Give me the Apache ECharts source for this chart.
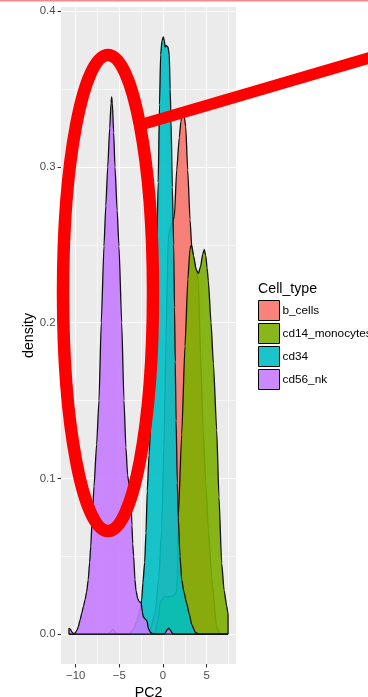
<!DOCTYPE html>
<html>
<head>
<meta charset="utf-8">
<script src="https://cdn.jsdelivr.net/npm/echarts@6.0.0/dist/echarts.min.js"></script>
<style>
  html, body { margin: 0; padding: 0; background: #ffffff; }
  #chart { width: 368px; height: 697px; }
</style>
</head>
<body>
<div id="chart"></div>
<script>
// Kernel density of PC2 per cell type: [PC2, density] pairs.
const cellTypes = ['b_cells', 'cd14_monocytes', 'cd34', 'cd56_nk'];
const fillColors = ['#F8766D', '#7CAE00', '#00BFC4', '#C77CFF'];

const bCells = [
  [-10.77, 0], [-6.4, 0], [-6.05, 0.0012], [-5.75, 0.003], [-5.45, 0.0012], [-5.1, 0],
  [-2.2, 0], [-1.5, 0.002], [-0.92, 0.013], [-0.5, 0.035], [-0.15, 0.067], [0.1, 0.12],
  [0.35, 0.19], [0.61, 0.255], [0.9, 0.262], [1.3, 0.268], [1.57, 0.298], [1.87, 0.319],
  [2.05, 0.329], [2.2, 0.333], [2.32, 0.334], [2.45, 0.332], [2.6, 0.326], [2.83, 0.298],
  [3.1, 0.266], [3.3, 0.248], [3.6, 0.238], [4.05, 0.227], [4.3, 0.18], [4.6, 0.131],
  [4.9, 0.097], [5.2, 0.067], [5.6, 0.035], [6.15, 0.004], [6.6, 0], [7.45, 0]
];

const cd14Monocytes = [
  [-10.77, 0], [-1.2, 0], [-0.9, 0.001], [-0.6, 0.008], [-0.3, 0.021], [0.2, 0.024],
  [0.8, 0.024], [1.3, 0.025], [1.55, 0.027], [1.66, 0.038], [1.75, 0.075], [2.14, 0.128],
  [2.52, 0.185], [2.85, 0.228], [3.09, 0.247], [3.2, 0.2495], [3.28, 0.2497], [3.5, 0.243],
  [3.8, 0.234], [4.05, 0.2316], [4.3, 0.236], [4.55, 0.244], [4.73, 0.247], [4.9, 0.243],
  [5.05, 0.235], [5.19, 0.227], [5.5, 0.2], [5.77, 0.174], [6.15, 0.131], [6.41, 0.088],
  [6.72, 0.0455], [7.0, 0.028], [7.3, 0.018], [7.45, 0.013], [7.45, 0]
];

const cd34 = [
  [-10.77, 0], [-4.2, 0], [-3.8, 0.0005], [-3.4, 0.003], [-3.0, 0.008], [-2.7, 0.014],
  [-2.44, 0.022], [-2.3, 0.033], [-2.1, 0.046], [-1.95, 0.065], [-1.8, 0.092], [-1.6, 0.115],
  [-1.4, 0.135], [-1.2, 0.163], [-1.0, 0.195], [-0.75, 0.24], [-0.55, 0.29], [-0.4, 0.34],
  [-0.27, 0.372], [-0.12, 0.381], [0.04, 0.3835], [0.15, 0.381], [0.25, 0.377], [0.35, 0.378],
  [0.57, 0.377], [0.72, 0.372], [0.82, 0.35], [0.92, 0.33], [1.07, 0.287], [1.22, 0.25],
  [1.32, 0.21], [1.4, 0.175], [1.5, 0.137], [1.64, 0.097], [1.75, 0.075], [1.95, 0.05],
  [2.14, 0.035], [2.4, 0.027], [2.7, 0.02], [3.0, 0.013], [3.3, 0.006], [3.7, 0.0012],
  [4.1, 0], [7.45, 0]
];

const cd56Nk = [
  [-10.77, 0], [-10.77, 0.0037], [-10.6, 0.0032], [-10.45, 0.0015], [-10.25, 0.0003],
  [-10.05, 0.0008], [-9.85, 0.0026], [-9.7, 0.0047], [-9.5, 0.009], [-9.3, 0.0135],
  [-9.1, 0.018], [-8.93, 0.022], [-8.75, 0.027], [-8.56, 0.035], [-8.4, 0.046],
  [-8.28, 0.056], [-8.1, 0.075], [-7.9, 0.095], [-7.6, 0.122], [-7.33, 0.15], [-7.07, 0.2],
  [-6.76, 0.249], [-6.55, 0.275], [-6.33, 0.3], [-6.1, 0.325], [-5.95, 0.341], [-5.88, 0.345],
  [-5.8, 0.341], [-5.65, 0.322], [-5.5, 0.3], [-5.25, 0.272], [-5.04, 0.249], [-4.73, 0.2],
  [-4.47, 0.15], [-4.25, 0.12], [-4.05, 0.102], [-3.85, 0.095], [-3.7, 0.088], [-3.55, 0.07],
  [-3.47, 0.058], [-3.36, 0.05], [-3.21, 0.035], [-3.09, 0.028], [-2.9, 0.023], [-2.71, 0.0207],
  [-2.5, 0.0202], [-2.44, 0.0199], [-2.35, 0.014], [-2.26, 0.011], [-2.0, 0.0095],
  [-1.83, 0.0085], [-1.68, 0.0037], [-1.45, 0.0012], [-1.2, 0.0002], [-0.5, 0],
  [0.2, 0.0003], [0.45, 0.0025], [0.65, 0.0038], [0.85, 0.0025], [1.1, 0.0003], [1.5, 0],
  [7.45, 0]
];

const xTicks = [-10, -5, 0, 5];
const xMinorTicks = [-7.5, -2.5, 2.5, 7.5];
const yTicks = [0, 0.1, 0.2, 0.3, 0.4];
const yMinorTicks = [0.05, 0.15, 0.25, 0.35];

const densities = [bCells, cd14Monocytes, cd34, cd56Nk];

// Axis limits: data range widened by 5% on each side.
const allX = densities.flat().map(p => p[0]);
const allY = densities.flat().map(p => p[1]);
const xLo = Math.min(...allX), xHi = Math.max(...allX);
const yLo = Math.min(0, ...allY), yHi = Math.max(...allY);
const xPad = 0.05 * (xHi - xLo), yPad = 0.05 * (yHi - yLo);

const FONT = '"Liberation Sans", Arial, Helvetica, sans-serif';
const minusFmt = v => (v < 0 ? '\u2212' + Math.abs(v) : String(v));

function rgba(hex, a) {
  const n = parseInt(hex.slice(1), 16);
  return 'rgba(' + (n >> 16 & 255) + ',' + (n >> 8 & 255) + ',' + (n & 255) + ',' + a + ')';
}

const chart = echarts.init(document.getElementById('chart'), null, { renderer: 'canvas' });

const gridLines = [
  ...xTicks.map(v => ({ xAxis: v, lineStyle: { width: 1.1 } })),
  ...xMinorTicks.map(v => ({ xAxis: v, lineStyle: { width: 0.55 } })),
  ...yTicks.map(v => ({ yAxis: v, lineStyle: { width: 1.1 } })),
  ...yMinorTicks.map(v => ({ yAxis: v, lineStyle: { width: 0.55 } }))
];

const densitySeries = cellTypes.map((name, i) => ({
  type: 'line',
  name: name,
  data: densities[i],
  z: 10 + i,
  symbol: 'none',
  showSymbol: false,
  smooth: 0.2,
  smoothMonotone: 'x',
  silent: true,
  animation: false,
  color: fillColors[i],
  lineStyle: { color: '#111', width: 1.3 },
  areaStyle: { color: fillColors[i], opacity: 0.9 },
  emphasis: { disabled: true }
}));

// Axes sit on the panel edges (not on zero); only the outward ticks are drawn.
const edgeAxisLine = { show: false, onZero: false };

chart.setOption({
  animation: false,
  backgroundColor: '#ffffff',
  textStyle: { fontFamily: FONT },
  title: {
    text: 'Cell_type',
    left: 258,
    top: 282,
    padding: 0,
    textStyle: { fontFamily: FONT, fontSize: 14.2, fontWeight: 'normal', color: '#000' }
  },
  legend: {
    orient: 'vertical',
    left: 258,
    top: 300,
    padding: 0,
    itemWidth: 21,
    itemHeight: 20,
    itemGap: 2,
    selectedMode: false,
    icon: 'rect',
    textStyle: { fontFamily: FONT, fontSize: 11.8, color: '#000', padding: [0, 0, 0, -2] },
    data: cellTypes.map((n, i) => ({
      name: n,
      icon: 'rect',
      itemStyle: { color: rgba(fillColors[i], 0.9), borderColor: '#000', borderWidth: 1 }
    }))
  },
  grid: {
    left: 61, right: 132, top: 7, bottom: 33,
    show: true, backgroundColor: '#EBEBEB', borderWidth: 0,
    outerBoundsMode: 'none', containLabel: false
  },
  xAxis: {
    type: 'value',
    min: xLo - xPad,
    max: xHi + xPad,
    name: 'PC2',
    nameLocation: 'middle',
    nameGap: 19,
    nameTextStyle: { fontFamily: FONT, fontSize: 14.2, color: '#000' },
    axisLine: edgeAxisLine,
    axisTick: { show: true, inside: false, length: 3.5, customValues: xTicks, lineStyle: { color: '#333', width: 1.1 } },
    axisLabel: { customValues: xTicks, formatter: minusFmt, margin: 6.5, fontFamily: FONT, fontSize: 11.4, color: '#4D4D4D' },
    splitLine: { show: false },
    minorSplitLine: { show: false }
  },
  yAxis: {
    type: 'value',
    min: yLo - yPad,
    max: yHi + yPad,
    name: 'density',
    nameLocation: 'middle',
    nameGap: 22,
    nameRotate: 90,
    nameTextStyle: { fontFamily: FONT, fontSize: 14.2, color: '#000' },
    axisLine: edgeAxisLine,
    axisTick: { show: true, inside: false, length: 3.5, customValues: yTicks, lineStyle: { color: '#333', width: 1.1 } },
    axisLabel: { customValues: yTicks, formatter: v => v.toFixed(1), margin: 5.5, fontFamily: FONT, fontSize: 11.4, color: '#4D4D4D' },
    splitLine: { show: false }
  },
  series: [
    {
      type: 'line',
      name: 'panel grid',
      data: [],
      z: 1,
      silent: true,
      markLine: {
        silent: true,
        z: 1,
        animation: false,
        symbol: ['none', 'none'],
        label: { show: false },
        emphasis: { disabled: true },
        lineStyle: { color: '#ffffff', type: 'solid', width: 1.1 },
        data: gridLines
      }
    },
    ...densitySeries,
    {
      type: 'line',
      name: 'baseline',
      data: [[xLo, 0], [xHi, 0]],
      z: 14,
      symbol: 'none',
      silent: true,
      lineStyle: { color: '#111', width: 1.3 },
      emphasis: { disabled: true }
    }
  ],
  graphic: [
    {
      type: 'line',
      z: 100,
      silent: true,
      shape: { x1: 0, y1: 0.75, x2: 368, y2: 0.75 },
      style: { stroke: '#F3898A', lineWidth: 1.5 }
    },
    {
      type: 'ellipse',
      z: 100,
      silent: true,
      shape: { cx: 108, cy: 293, rx: 45, ry: 238 },
      style: { fill: 'none', stroke: '#FF0000', lineWidth: 12.5 }
    },
    {
      type: 'line',
      z: 100,
      silent: true,
      shape: { x1: 140, y1: 125, x2: 372, y2: 57 },
      style: { stroke: '#FF0000', lineWidth: 11.5 }
    }
  ]
});
</script>
</body>
</html>
